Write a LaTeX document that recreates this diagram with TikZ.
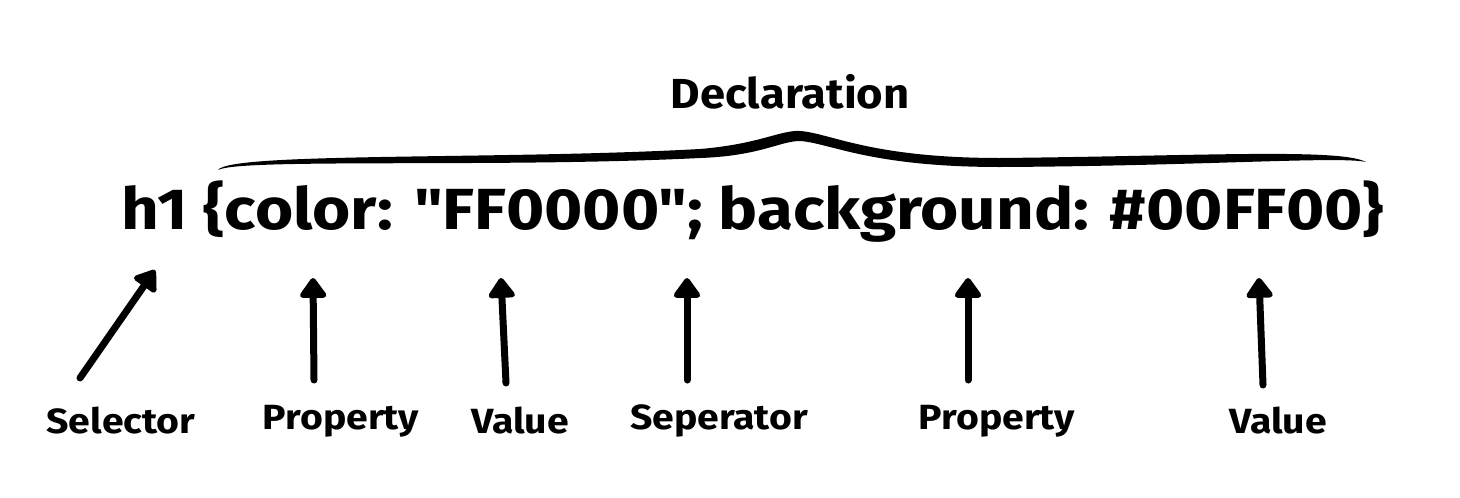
\documentclass[tikz,border=0pt]{standalone}
\usepackage{fontspec}
\newfontfamily\ff{Fira Sans}
\usetikzlibrary{arrows.meta}
\begin{document}
\begin{tikzpicture}[x=1pt,y=-1pt,
  lbl/.style={font=\ff\fontsize{35}{36}\selectfont\bfseries, inner sep=0pt, xscale=1.12},
  arr/.style={line width=7pt, line cap=round, -{Triangle[length=22pt,width=30pt,round]}}]
\useasboundingbox (0,0) rectangle (1460,498);
\node[inner sep=0pt, xscale=1.13, font=\ff\fontsize{58}{60}\selectfont\bfseries] (code) at (753,212) {h1 \{color: "FF0000"; background: \#00FF00\}};
\node[inner sep=0pt, xscale=1.08, font=\ff\fontsize{42}{44}\selectfont\bfseries] (decl) at (790,92) {Declaration};
\fill (218,170) .. controls (230,152) and (500,160) .. (700,149)
  .. controls (760,144) and (780,130) .. (800,131)
  .. controls (830,133) and (870,158) .. (1000,158)
  .. controls (1200,156) and (1340,148) .. (1366,162)
  .. controls (1340,156) and (1200,166) .. (1000,167)
  .. controls (870,167) and (830,143) .. (800,141)
  .. controls (780,141) and (760,156) .. (700,158)
  .. controls (500,168) and (240,158) .. (218,170) -- cycle;
\node[lbl] (l1) at (121,421) {Selector};
\node[lbl] (l2) at (341,421) {Property};
\node[lbl] (l3) at (520,421) {Value};
\node[lbl] (l4) at (719,421) {Seperator};
\node[lbl] (l5) at (997,421) {Property};
\node[lbl] (l6) at (1278,421) {Value};
\coordinate (s1) at (80,378); \coordinate (e1) at (155,270);
\coordinate (s2) at (314,380); \coordinate (e2) at (313,278);
\coordinate (s3) at (506,383); \coordinate (e3) at (501,278);
\coordinate (s4) at (687,380); \coordinate (e4) at (687,278);
\coordinate (s5) at (968,380); \coordinate (e5) at (968,278);
\coordinate (s6) at (1263,385); \coordinate (e6) at (1259,278);
\foreach \i in {1,...,6} \draw[arr] (s\i) -- (e\i);
\end{tikzpicture}
\end{document}
